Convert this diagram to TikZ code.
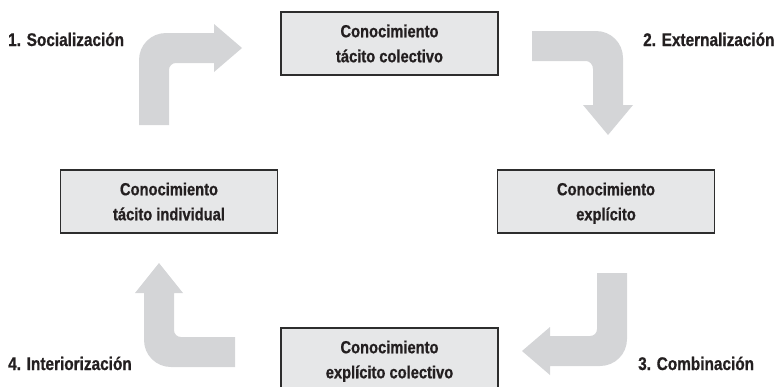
\documentclass[tikz,border=0pt]{standalone}
\usepackage{fontspec}
\usepackage{xcolor}
\usepackage{tikz}
\setmainfont{Liberation Sans}[FakeStretch=0.84, BoldFeatures={FakeBold=0.8}]
\definecolor{boxgray}{RGB}{230, 231, 232}
\definecolor{arrowgray}{RGB}{212, 213, 215}
\definecolor{linegray}{RGB}{45, 45, 45}
\definecolor{textblack}{RGB}{35, 31, 32}
\tikzset{
    knowbox/.style={draw=linegray, line width=1.4pt, fill=boxgray,
        minimum width=217pt, minimum height=63pt, align=center,
        text=textblack, text height=37.5pt, text depth=0pt,
        font=\fontsize{17.5}{25}\selectfont\bfseries},
    phase/.style={anchor=base west, text=textblack, inner sep=0pt,
        font=\fontsize{18.3}{20}\selectfont\bfseries},
    bendarrow/.style={fill=arrowgray, draw=none}
}

\begin{document}
\begin{tikzpicture}[x=1pt, y=-1pt]
        \useasboundingbox (0,0) rectangle (775,386);

        % cajas
        \node[knowbox] (tacitcol) at (389.5,43.5) {Conocimiento\\tácito colectivo};
        \node[knowbox] (tacitind) at (169,201.5) {Conocimiento\\tácito individual};
        \node[knowbox] (explicit) at (606,201.5) {Conocimiento\\explícito};
        \node[knowbox] (explcol) at (389.5,359.5) {Conocimiento\\explícito colectivo};

        % flechas
        \fill[bendarrow] (139,125) -- (139,60) .. controls (139,45) and (151,33) .. (166,33)
            -- (214,33) -- (214,24) -- (242,48) -- (214,72) -- (214,63) -- (176,63)
            .. controls (172,63) and (169,66) .. (169,70) -- (169,125) -- cycle;
        \fill[bendarrow] (532,31) -- (596,31) .. controls (611,31) and (623,43) .. (623,58)
            -- (623,105) -- (633,105) -- (608,135) -- (583,105) -- (593,105) -- (593,69)
            .. controls (593,65) and (590,61) .. (586,61) -- (532,61) -- cycle;
        \fill[bendarrow] (597,273) -- (627,273) -- (627,339) .. controls (627,354) and (615,366) .. (600,366)
            -- (550,366) -- (550,375) -- (522,351) -- (550,327) -- (550,336) -- (590,336)
            .. controls (594,336) and (597,333) .. (597,329) -- cycle;
        \fill[bendarrow] (235,337) -- (181,337) .. controls (177,337) and (174,334) .. (174,330)
            -- (174,293) -- (183,293) -- (159,263) -- (135,293) -- (144,293) -- (144,340)
            .. controls (144,355) and (156,367) .. (171,367) -- (235,367) -- cycle;

        % fases
        \node[phase] (social) at (8,46) {1. Socialización};
        \node[phase] (extern) at (643,46) {2. Externalización};
        \node[phase] (combin) at (638,370) {3. Combinación};
        \node[phase] (inter) at (8,370) {4. Interiorización};
    \end{tikzpicture}
\end{document}
